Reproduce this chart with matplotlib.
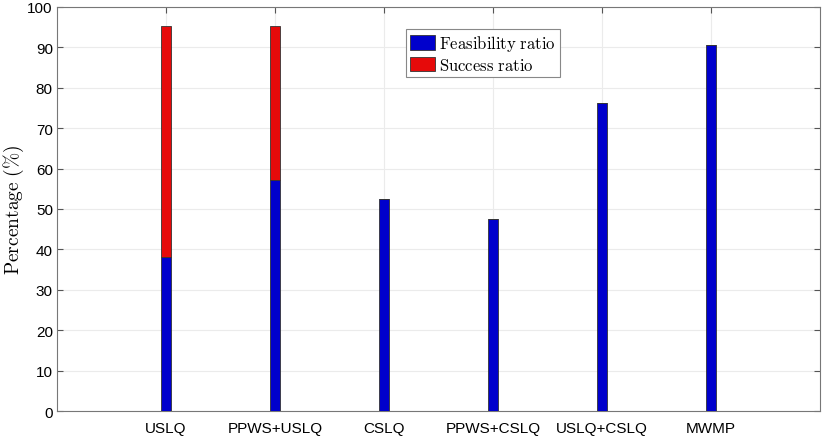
import matplotlib
matplotlib.use('Agg')
import matplotlib.pyplot as plt
import numpy as np

methods = ['USLQ', 'PPWS+USLQ', 'CSLQ', 'PPWS+CSLQ', 'USLQ+CSLQ', 'MWMP']
feasibility = [38.1, 57.1, 52.4, 47.6, 76.2, 90.5]
success = [57.1, 38.1, 0, 0, 0, 0]

plt.rcParams['font.family'] = ['Liberation Sans', 'DejaVu Sans']
plt.rcParams['mathtext.fontset'] = 'cm'

fig = plt.figure(figsize=(8.3, 4.39), dpi=100)
ax = fig.add_axes([0.0687, 0.0615, 0.9193, 0.9205])

x = np.arange(1, len(methods) + 1)
ax.bar(x, feasibility, width=0.1, color='#0000CC', edgecolor='#333333',
       linewidth=0.6, label=r'$\mathrm{Feasibility\ ratio}$', zorder=3)
ax.bar(x, success, bottom=feasibility, width=0.1, color='#E60A0A',
       edgecolor='#333333', linewidth=0.6, label=r'$\mathrm{Success\ ratio}$', zorder=3)

ax.set_xlim(0, 7)
ax.set_ylim(0, 100)
ax.set_xticks(x)
ax.set_xticklabels(methods)
ax.set_yticks(np.arange(0, 101, 10))
ax.tick_params(direction='in', length=4, labelsize=11, color='#555555',
               top=True, right=True, pad=3)
ax.tick_params(axis='x', pad=7)
ax.grid(True, color='#ebebeb', linewidth=0.8, zorder=0)
for s in ax.spines.values():
    s.set_color('#777777')
    s.set_linewidth(0.8)

ax.set_ylabel(r'$\mathrm{Percentage\ (\%)}$', fontsize=14)
ax.yaxis.set_label_coords(-0.041, 0.5)

leg = ax.legend(loc='upper left', bbox_to_anchor=(0.457, 0.945), fontsize=12,
                fancybox=False, framealpha=1, edgecolor='#888888',
                handlelength=1.5, handleheight=0.95, handletextpad=0.25,
                borderpad=0.25, labelspacing=0.2, borderaxespad=0)
leg.get_frame().set_linewidth(0.8)

plt.savefig('out.png', dpi=100)
